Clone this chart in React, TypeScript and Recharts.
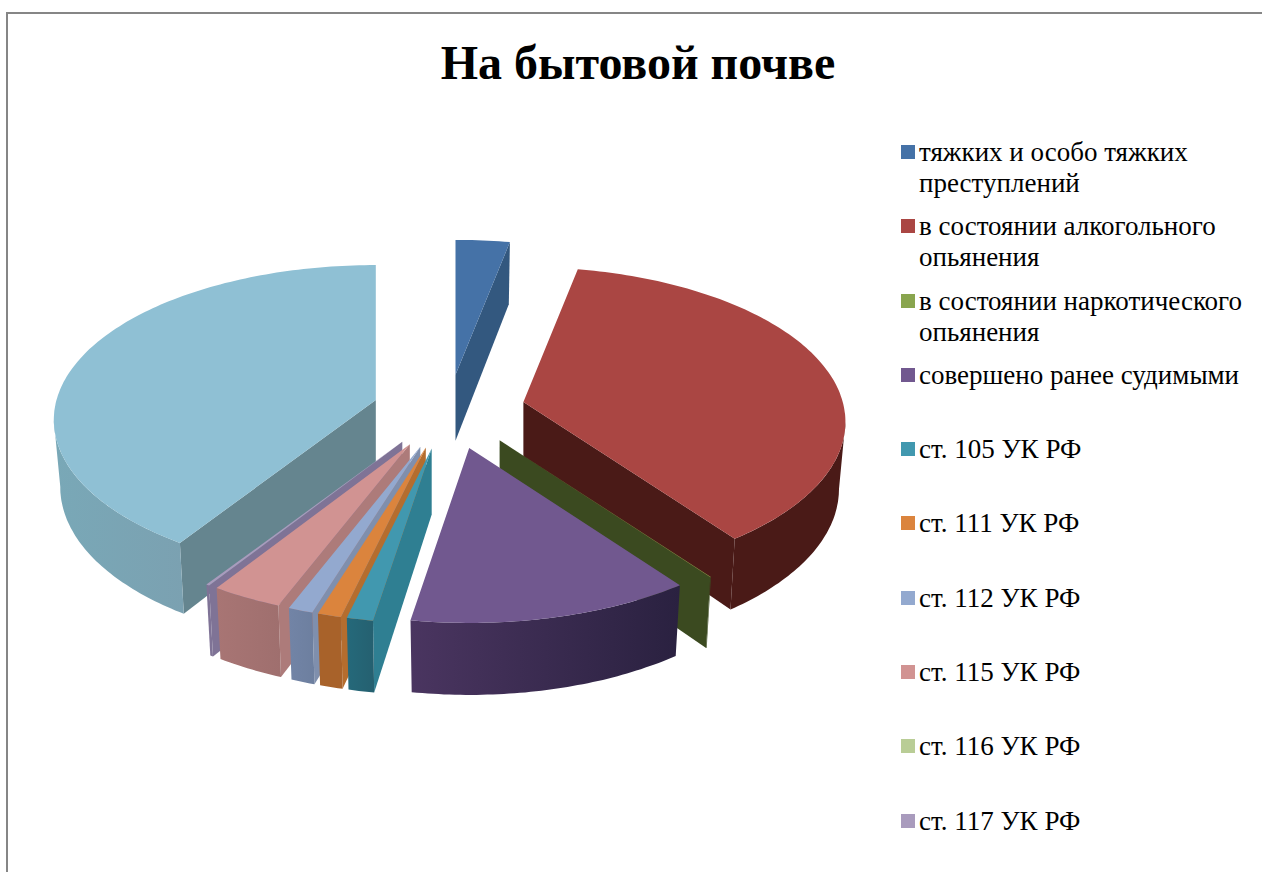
import React from 'react';
import { PieChart, Pie, Legend } from 'recharts';

const categories = [
    'тяжких и особо тяжких преступлений',
    'в состоянии алкогольного опьянения',
    'в состоянии наркотического опьянения',
    'совершено ранее судимыми',
    'ст. 105 УК РФ',
    'ст. 111 УК РФ',
    'ст. 112 УК РФ',
    'ст. 115 УК РФ',
    'ст. 116 УК РФ',
    'ст. 117 УК РФ',
    'ст. 119 УК РФ',
];
const values = [2.7, 35.91, 0.04, 14.27, 1.33, 1.19, 1.25, 3.55, 0, 0.17, 39.59];

const topColors = ['#4572a7', '#aa4643', '#89a54e', '#71588f', '#4198af', '#db843d', '#93a9cf', '#d19392', '#b9cd96', '#a99bbd', '#8fc0d4'];
const faceColors = ['#33587f', '#4a1a17', '#3b4a20', '#3f2f58', '#2f7f92', '#b56d2e', '#7f8fad', '#ad7b7a', '#8a9c6c', '#7f7396', '#65858f'];
const wallLeftColors = ['#33587f', '#4a1a17', '#3b4a20', '#4a3560', '#25697a', '#a8622a', '#7284a6', '#a87574', '#8a9c6c', '#7f7396', '#79a8b7'];
const wallRightColors = ['#33587f', '#4a1a17', '#3b4a20', '#2a2140', '#256070', '#a8622a', '#6d7f9f', '#9f6f6e', '#8a9c6c', '#7f7396', '#7ba1b1'];

const LEGEND_COUNT = 10; // the last item falls off the bottom of the picture
const RIGHT_SIDE_COUNT = 4; // slices painted first to last; the others are painted last to first

const chartData = categories.map((name, i) => ({
    name,
    value: values[i],
    fill: topColors[i],
    face: faceColors[i],
    wallLeft: wallLeftColors[i],
    wallRight: wallRightColors[i],
    gradientId: `wall-${i}`,
    order: i,
}));
const reversedData = [...chartData].reverse();

// tilted pie: proportions relative to the outer radius
const RY = 0.481;
const RY_SHIFT = 0.062;
const EXPLODE_X = 0.24;
const EXPLODE_Y = 0.116;
const SHRINK = 0.98;

const rad = (deg: number) => (deg * Math.PI) / 180;

function Slice3D(props: any) {
    const { cx, cy, outerRadius: r, startAngle, endAngle, fill, payload } = props;
    // recharts angles run counter-clockwise from 3 o'clock, here clockwise from 12
    const t0 = Math.min(90 - startAngle, 90 - endAngle);
    const t1 = Math.max(90 - startAngle, 90 - endAngle);
    const mid = (t0 + t1) / 2;
    const ax = cx + r * EXPLODE_X * Math.sin(rad(mid));
    const ay = cy - r * EXPLODE_Y * Math.cos(rad(mid));

    const outer = (t: number) => [ax + r * Math.sin(rad(t)), ay - r * RY * Math.cos(rad(t)) + r * RY_SHIFT];
    const lower = (t: number) => {
        const [x, y] = outer(t);
        return [ax + (x - ax) * SHRINK, y + 67 - 5 * Math.cos(rad(t))];
    };
    const arc = (from: number, to: number, fn: (t: number) => number[]) => {
        const pts: number[][] = [];
        const n = Math.max(1, Math.ceil(Math.abs(to - from)));
        for (let i = 0; i <= n; i++) pts.push(fn(from + ((to - from) * i) / n));
        return pts;
    };
    const toPath = (pts: number[][]) => 'M' + pts.map((p) => `${p[0].toFixed(1)} ${p[1].toFixed(1)}`).join('L') + 'Z';

    const apexLow = [ax, ay + 66];
    const face0 = t0 > 180 && t1 > t0 ? toPath([[ax, ay], outer(t0), lower(t0), apexLow]) : null;
    const face1 = t1 > 0 && t1 < 180 ? toPath([[ax, ay], outer(t1), lower(t1), apexLow]) : null;

    const wFrom = Math.max(t0, 90);
    const wTo = Math.min(t1, 270);
    const wall = wTo > wFrom ? toPath([...arc(wFrom, wTo, outer), ...arc(wTo, wFrom, lower)]) : null;

    const top = toPath([[ax, ay], ...arc(t0, t1, outer)]);

    return (
        <g>
            <defs>
                <linearGradient id={payload.gradientId} x1="0" y1="0" x2="1" y2="0">
                    <stop offset="0%" stopColor={payload.wallLeft} />
                    <stop offset="100%" stopColor={payload.wallRight} />
                </linearGradient>
            </defs>
            {face0 && <path d={face0} fill={payload.face} />}
            {face1 && <path d={face1} fill={payload.face} />}
            {wall && <path d={wall} fill={`url(#${payload.gradientId})`} />}
            <path d={top} fill={fill} />
        </g>
    );
}

const RightSlice = (props: any) => (props.payload.order < RIGHT_SIDE_COUNT ? <Slice3D {...props} /> : <g />);
const LeftSlice = (props: any) => (props.payload.order >= RIGHT_SIDE_COUNT ? <Slice3D {...props} /> : <g />);

function LegendList({ payload }: any) {
    return (
        <div>
            {(payload || []).slice(0, LEGEND_COUNT).map((item: any) => (
                <div key={item.value} style={{ height: 74.3, position: 'relative', paddingLeft: 18, lineHeight: '31px', fontSize: 27, color: '#000', fontFamily: '"Liberation Serif", serif' }}>
                    <span style={{ position: 'absolute', left: 0, top: 8, width: 14, height: 14, background: item.color }} />
                    {item.value}
                </div>
            ))}
        </div>
    );
}

export default function App() {
    return (
        <div style={{ position: 'absolute', left: 0, top: 0, width: 1262, height: 872, overflow: 'hidden', background: '#fff' }}>
            <div style={{ position: 'absolute', left: 6, top: 12, right: -4, bottom: -4, borderLeft: '2px solid #868686', borderTop: '2px solid #868686' }} />
            <PieChart width={1262} height={872} style={{ position: 'absolute', left: 0, top: 0 }}>
                <text x={638} y={79} textAnchor="middle" fontFamily='"Liberation Serif", serif' fontWeight="bold" fontSize={48} fill="#000">
                    На бытовой почве
                </text>
                <Pie
                    data={chartData}
                    dataKey="value"
                    nameKey="name"
                    cx={444}
                    cy={407}
                    outerRadius={322}
                    startAngle={90}
                    endAngle={-270}
                    stroke="none"
                    shape={RightSlice}
                    isAnimationActive={false}
                />
                <Pie
                    data={reversedData}
                    dataKey="value"
                    nameKey="name"
                    cx={444}
                    cy={407}
                    outerRadius={322}
                    startAngle={-270}
                    endAngle={90}
                    stroke="none"
                    legendType="none"
                    shape={LeftSlice}
                    isAnimationActive={false}
                />
                <Legend
                    layout="vertical"
                    align="right"
                    verticalAlign="top"
                    itemSorter={null}
                    content={<LegendList />}
                    wrapperStyle={{ left: 901, top: 137, width: 345 }}
                />
            </PieChart>
        </div>
    );
}
